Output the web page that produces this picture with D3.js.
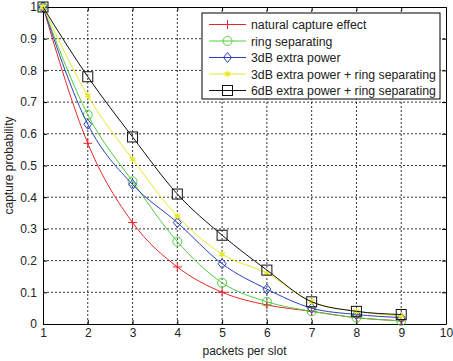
<!DOCTYPE html>
<html>
<head>
<meta charset="utf-8">
<script src="https://cdn.jsdelivr.net/npm/d3@7"></script>
<style>
  body { margin: 0; background: #fff; }
  text { font-family: "Liberation Sans", Arial, sans-serif; }
</style>
</head>
<body>
<div id="chart"></div>
<script>
// packets per slot
const xs = [1, 2, 3, 4, 5, 6, 7, 8, 9];
const natural = [1, 0.57, 0.32, 0.18, 0.10, 0.06, 0.04, 0.02, 0.01];
const ringSep = [1, 0.66, 0.45, 0.26, 0.13, 0.07, 0.04, 0.02, 0.01];
const extra3dB = [1, 0.63, 0.44, 0.32, 0.19, 0.11, 0.05, 0.03, 0.02];
const extra3dBRing = [1, 0.72, 0.52, 0.34, 0.22, 0.16, 0.07, 0.04, 0.025];
const extra6dBRing = [1, 0.78, 0.59, 0.41, 0.28, 0.17, 0.07, 0.04, 0.03];
const xTicks = [1, 2, 3, 4, 5, 6, 7, 8, 9, 10];
const yTicks = [0, 0.1, 0.2, 0.3, 0.4, 0.5, 0.6, 0.7, 0.8, 0.9, 1];

const series = [
  { name: 'natural capture effect', values: natural, color: '#e8262a', marker: 'plus' },
  { name: 'ring separating', values: ringSep, color: '#4fcf3f', marker: 'circle' },
  { name: '3dB extra power', values: extra3dB, color: '#2a3fbf', marker: 'diamond' },
  { name: '3dB extra power + ring separating', values: extra3dBRing, color: '#e8e82a', marker: 'star' },
  { name: '6dB extra power + ring separating', values: extra6dBRing, color: '#111', marker: 'square' }
];

const width = 453, height = 361;
const margin = { top: 7, right: 7, bottom: 37, left: 43 };

const svg = d3.select('#chart').append('svg')
  .attr('width', width)
  .attr('height', height);

const x = d3.scaleLinear().domain([1, 10]).range([margin.left, width - margin.right]);
const y = d3.scaleLinear().domain([0, 1]).range([height - margin.bottom, margin.top]);

// grid
const grid = svg.append('g');
grid.selectAll('.gx').data(xTicks.slice(1, -1)).enter().append('line')
  .attr('x1', d => x(d)).attr('x2', d => x(d))
  .attr('y1', y(0)).attr('y2', y(1))
  .attr('stroke', '#000').attr('stroke-width', 0.8).attr('stroke-dasharray', '2,2');
grid.selectAll('.gy').data(yTicks.slice(1, -1)).enter().append('line')
  .attr('x1', x(1)).attr('x2', x(10))
  .attr('y1', d => y(d)).attr('y2', d => y(d))
  .attr('stroke', '#000').attr('stroke-width', 0.8).attr('stroke-dasharray', '2,2');

// axes (ticks inward, box on all sides)
svg.append('g').attr('transform', `translate(0,${y(0)})`)
  .call(d3.axisBottom(x).tickValues(xTicks).tickSizeInner(-4).tickSizeOuter(0).tickPadding(4).tickFormat(d3.format('d')));
svg.append('g').attr('transform', `translate(0,${y(1)})`)
  .call(d3.axisTop(x).tickValues(xTicks).tickSizeInner(-4).tickSizeOuter(0).tickFormat(''));
svg.append('g').attr('transform', `translate(${x(1)},0)`)
  .call(d3.axisLeft(y).tickValues(yTicks).tickSizeInner(-4).tickSizeOuter(0).tickPadding(6).tickFormat(d => d === 0 || d === 1 ? d3.format('d')(d) : d3.format('.1f')(d)));
svg.append('g').attr('transform', `translate(${x(10)},0)`)
  .call(d3.axisRight(y).tickValues(yTicks).tickSizeInner(-4).tickSizeOuter(0).tickFormat(''));

svg.selectAll('.domain').attr('stroke', '#000').attr('stroke-width', 1);
svg.selectAll('.tick text').attr('font-size', 12).attr('fill', '#222');

// axis labels
svg.append('text')
  .attr('x', (x(1) + x(10)) / 2).attr('y', 355)
  .attr('text-anchor', 'middle').attr('font-size', 12).attr('fill', '#222')
  .text('packets per slot');
svg.append('text')
  .attr('transform', `translate(13,${(y(0) + y(1)) / 2}) rotate(-90)`)
  .attr('text-anchor', 'middle').attr('font-size', 12).attr('fill', '#222')
  .text('capture probability');

function drawMarker(g, type, color) {
  const s = 4.5;
  if (type === 'plus') {
    g.append('path').attr('d', `M${-s},0H${s}M0,${-s}V${s}`).attr('stroke', color).attr('stroke-width', 1);
  } else if (type === 'circle') {
    g.append('circle').attr('r', 4.5).attr('fill', 'none').attr('stroke', color).attr('stroke-width', 1);
  } else if (type === 'diamond') {
    g.append('path').attr('d', `M0,${-5}L4,0L0,5L-4,0Z`).attr('fill', 'none').attr('stroke', color).attr('stroke-width', 1);
  } else if (type === 'star') {
    g.append('path').attr('d', d3.symbol(d3.symbolAsterisk, 30)()).attr('stroke', color).attr('stroke-width', 1.3);
    g.append('circle').attr('r', 1.8).attr('fill', color);
  } else if (type === 'square') {
    g.append('rect').attr('x', -5).attr('y', -5).attr('width', 10).attr('height', 10)
      .attr('fill', 'none').attr('stroke', color).attr('stroke-width', 1);
  }
}

const line = d3.line()
  .x((d, i) => x(xs[i]))
  .y(d => y(d))
  .curve(d3.curveMonotoneX);

series.forEach(s => {
  svg.append('path')
    .datum(s.values)
    .attr('fill', 'none')
    .attr('stroke', s.color)
    .attr('stroke-width', 1)
    .attr('d', line);
  s.values.forEach((v, i) => {
    const g = svg.append('g').attr('transform', `translate(${x(xs[i])},${y(v)})`);
    drawMarker(g, s.marker, s.color);
  });
});

// legend
const lg = svg.append('g').attr('transform', 'translate(202,13)');
lg.append('rect').attr('width', 238).attr('height', 86)
  .attr('fill', '#fff').attr('stroke', '#000').attr('stroke-width', 1);
series.forEach((s, i) => {
  const ly = 11.5 + i * 16.5;
  lg.append('line').attr('x1', 7).attr('x2', 44).attr('y1', ly).attr('y2', ly)
    .attr('stroke', s.color).attr('stroke-width', 1);
  const g = lg.append('g').attr('transform', `translate(25.5,${ly})`);
  drawMarker(g, s.marker, s.color);
  lg.append('text').attr('x', 49).attr('y', ly + 4.5)
    .attr('font-size', 12.3).attr('fill', '#222').text(s.name);
});
</script>
</body>
</html>
